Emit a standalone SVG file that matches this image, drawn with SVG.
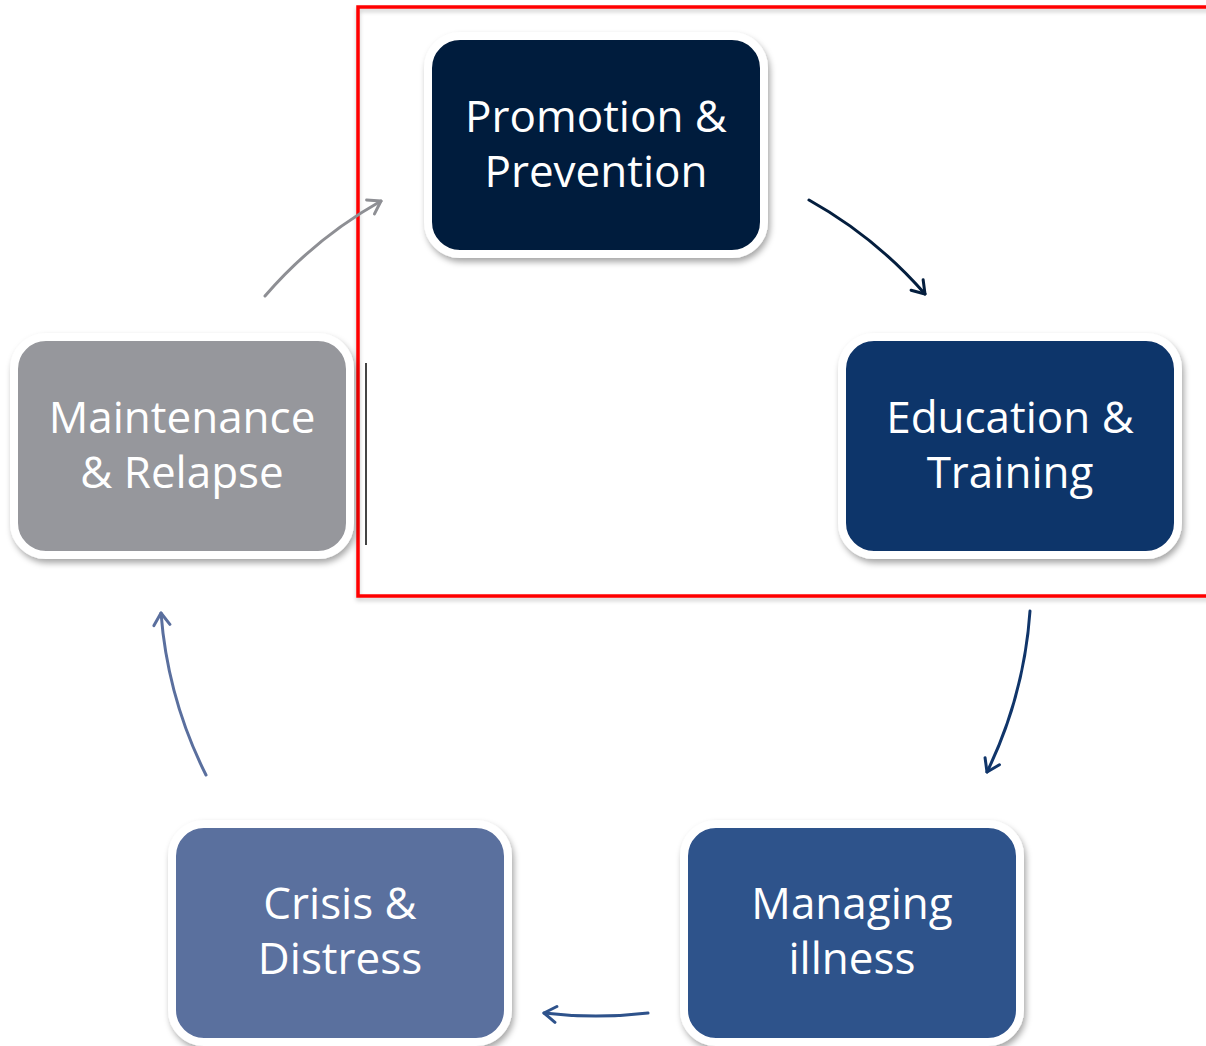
<svg xmlns="http://www.w3.org/2000/svg" width="1206" height="1046" viewBox="0 0 1206 1046">
  <style>
    .box { stroke: #ffffff; stroke-width: 8; }
    .label { font-family: "Open Sans", "Noto Sans", "DejaVu Sans", sans-serif; font-size: 44px; fill: #ffffff; text-anchor: middle; }
    .link { fill: none; stroke-width: 3; stroke-linecap: round; }
  </style>
  <defs>
    <filter id="shadow" x="-10%" y="-10%" width="125%" height="130%">
      <feDropShadow dx="2" dy="4" stdDeviation="3" flood-color="#000000" flood-opacity="0.35"/>
    </filter>
    <filter id="softshadow" x="-5%" y="-5%" width="110%" height="110%">
      <feDropShadow dx="0" dy="3" stdDeviation="2" flood-color="#000000" flood-opacity="0.2"/>
    </filter>
    <marker id="head" viewBox="-14 -10 16 20" markerWidth="16" markerHeight="20" refX="0" refY="0" orient="auto" markerUnits="userSpaceOnUse">
      <path d="M-12,-8 L0,0 L-12,8" fill="none" stroke="context-stroke" stroke-width="3" stroke-linecap="round" stroke-linejoin="round"/>
    </marker>
  </defs>

  <rect width="1206" height="1046" fill="#ffffff"/>

  <!-- highlight frame -->
  <rect x="358" y="7" width="860" height="589" fill="none" stroke="#ff0000" stroke-width="3.5" filter="url(#softshadow)"/>
  <line x1="366" y1="363" x2="366" y2="545" stroke="#444444" stroke-width="2"/>

  <!-- cycle connectors -->
  <g id="connectors">
    <path class="link" d="M265,296 A436,436 0 0 1 381,201" stroke="#8e8f94" stroke-width="2.5" marker-end="url(#head)"/>
    <path class="link" d="M809,200 A436,436 0 0 1 925,294" stroke="#041e3e" marker-end="url(#head)"/>
    <path class="link" d="M1030,611 A436,436 0 0 1 987,772" stroke="#10356a" marker-end="url(#head)"/>
    <path class="link" d="M648,1013 A436,436 0 0 1 544,1013" stroke="#2e528b" marker-end="url(#head)"/>
    <path class="link" d="M206,775 A436,436 0 0 1 161,613" stroke="#5a6f9e" marker-end="url(#head)"/>
  </g>

  <g id="promotion">
    <rect class="box" x="428" y="36" width="336" height="218" rx="32" fill="#041e3e" filter="url(#shadow)"/>
    <text class="label" x="596" y="132">Promotion &amp;</text>
    <text class="label" x="596" y="187">Prevention</text>
  </g>

  <g id="education">
    <rect class="box" x="842" y="337" width="336" height="218" rx="32" fill="#10356a" filter="url(#shadow)"/>
    <text class="label" x="1010" y="433">Education &amp;</text>
    <text class="label" x="1010" y="488">Training</text>
  </g>

  <g id="managing">
    <rect class="box" x="684" y="824" width="336" height="218" rx="32" fill="#2e528b" filter="url(#shadow)"/>
    <text class="label" x="852" y="919">Managing</text>
    <text class="label" x="852" y="974">illness</text>
  </g>

  <g id="crisis">
    <rect class="box" x="172" y="824" width="336" height="218" rx="32" fill="#5a6f9e" filter="url(#shadow)"/>
    <text class="label" x="340" y="919">Crisis &amp;</text>
    <text class="label" x="340" y="974">Distress</text>
  </g>

  <g id="maintenance">
    <rect class="box" x="14" y="337" width="336" height="218" rx="32" fill="#96979c" filter="url(#shadow)"/>
    <text class="label" x="182" y="433">Maintenance</text>
    <text class="label" x="182" y="488">&amp; Relapse</text>
  </g>
</svg>
